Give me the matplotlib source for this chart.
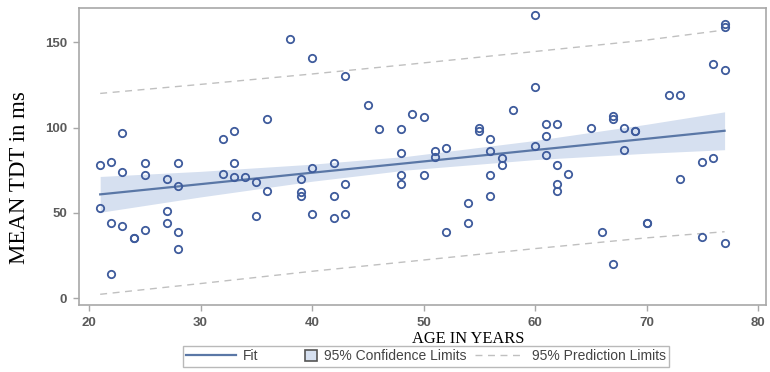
import numpy as np
import matplotlib.pyplot as plt
from matplotlib.lines import Line2D
from matplotlib.patches import Patch, Rectangle
from matplotlib.legend_handler import HandlerPatch

ages = [21, 21, 22, 22, 22, 23, 23, 23, 24, 24, 25, 25, 25, 27, 27, 27,
        28, 28, 28, 28, 32, 32, 33, 33, 33, 34, 35, 35, 36, 36, 38,
        39, 39, 39, 40, 40, 40, 42, 42, 42, 43, 43, 43, 45, 46,
        48, 48, 48, 48, 49, 50, 50, 51, 51, 52, 52, 54, 54, 55, 55,
        56, 56, 56, 56, 57, 57, 58, 60, 60, 60, 61, 61, 61,
        62, 62, 62, 62, 63, 65, 66, 67, 67, 67, 68, 68, 69, 69,
        70, 70, 72, 73, 73, 75, 75, 76, 76, 77, 77, 77, 77]
tdt = [78, 53, 80, 44, 14, 97, 74, 42, 35, 35, 79, 72, 40, 70, 51, 44,
       79, 66, 39, 29, 93, 73, 98, 79, 71, 71, 68, 48, 105, 63, 152,
       70, 62, 60, 141, 76, 49, 79, 60, 47, 130, 67, 49, 113, 99,
       99, 85, 72, 67, 108, 106, 72, 86, 83, 88, 39, 56, 44, 100, 98,
       93, 86, 72, 60, 82, 78, 110, 166, 124, 89, 102, 95, 84,
       102, 78, 67, 63, 73, 100, 39, 107, 105, 20, 100, 87, 98, 98,
       44, 44, 119, 119, 70, 80, 36, 137, 82, 161, 159, 134, 32]

# fitted line, confidence and prediction limits at a few ages
band_age = [21, 30, 40, 48.5, 60, 70, 77]
fit_val = [60.8, 66.8, 73.5, 79.1, 86.8, 93.4, 98.1]
ci_low = [50.3, 59.3, 68.5, 75.1, 81.2, 84.9, 87.0]
ci_high = [71.3, 74.3, 78.5, 83.1, 92.4, 101.9, 109.2]
pi_low = [2.2, 8.5, 15.7, 21.3, 29.0, 35.3, 38.9]
pi_high = [120.0, 125.3, 131.4, 136.9, 144.6, 151.3, 157.2]

fit_color = "#5a77a6"
band_color = "#d6e0f0"
marker_color = "#3e5b9c"
pred_color = "#c0c0c0"


def small_square(legend, orig_handle, xdescent, ydescent, width, height,
                 fontsize):
    # little square at the right end of the handle area, like the SAS legend
    s = height * 1.1
    return Rectangle((width - s - xdescent, -ydescent + (height - s) / 2),
                     s, s)


fig = plt.figure(figsize=(7.7, 3.72), dpi=100)
ax = fig.add_axes([0.1026, 0.18, 0.892, 0.7985])

ax.fill_between(band_age, ci_low, ci_high, color=band_color, lw=0, zorder=1)
ax.plot(band_age, fit_val, color=fit_color, lw=1.6, zorder=2)
ax.plot(band_age, pi_low, color=pred_color, lw=1.0, ls=(0, (5, 4)), zorder=2)
ax.plot(band_age, pi_high, color=pred_color, lw=1.0, ls=(0, (5, 4)), zorder=2)
ax.plot(ages, tdt, "o", mfc="none", mec=marker_color, ms=5.3, mew=1.3,
        zorder=3)

ax.set_xlim(19.1, 80.7)
ax.set_ylim(-4.1, 170.1)
ax.set_xticks([20, 30, 40, 50, 60, 70, 80])
ax.set_yticks([0, 50, 100, 150])

for s in ax.spines.values():
    s.set_color("#a8a8a8")
    s.set_linewidth(1.2)
ax.tick_params(length=4.5, width=1, color="#a8a8a8", pad=4,
               labelsize=9.5, labelcolor="#5a5a5a")
for lab in ax.get_xticklabels() + ax.get_yticklabels():
    lab.set_fontfamily("Liberation Sans")
    lab.set_fontweight("bold")

ax.set_ylabel("MEAN TDT in ms", fontfamily="Liberation Serif", fontsize=16.5)
ax.yaxis.set_label_coords(-0.072, 0.43)
fig.text(0.608, 0.09, "AGE IN YEARS", fontfamily="Liberation Serif",
         fontsize=11.8, ha="center", va="center")

handles = [
    Line2D([], [], color=fit_color, lw=1.6),
    Patch(facecolor=band_color, edgecolor="#555555", lw=1.2),
    Line2D([], [], color=pred_color, lw=1.0, ls=(0, (5, 4))),
]
labels = ["Fit", "95% Confidence Limits", "95% Prediction Limits"]
leg = fig.legend(handles, labels, loc="center", bbox_to_anchor=(0.553, 0.042),
                 ncol=3, frameon=True, fancybox=False, handlelength=3.6,
                 handleheight=0.8, columnspacing=0.6, handletextpad=0.5,
                 borderpad=0.25,
                 handler_map={Patch: HandlerPatch(patch_func=small_square)},
                 prop={"family": "Liberation Sans", "size": 10})
leg.get_frame().set_edgecolor("#a8a8a8")
leg.get_frame().set_linewidth(1.0)
for t in leg.get_texts():
    t.set_color("#444444")

fig.savefig("out.png", dpi=100, facecolor="white")
